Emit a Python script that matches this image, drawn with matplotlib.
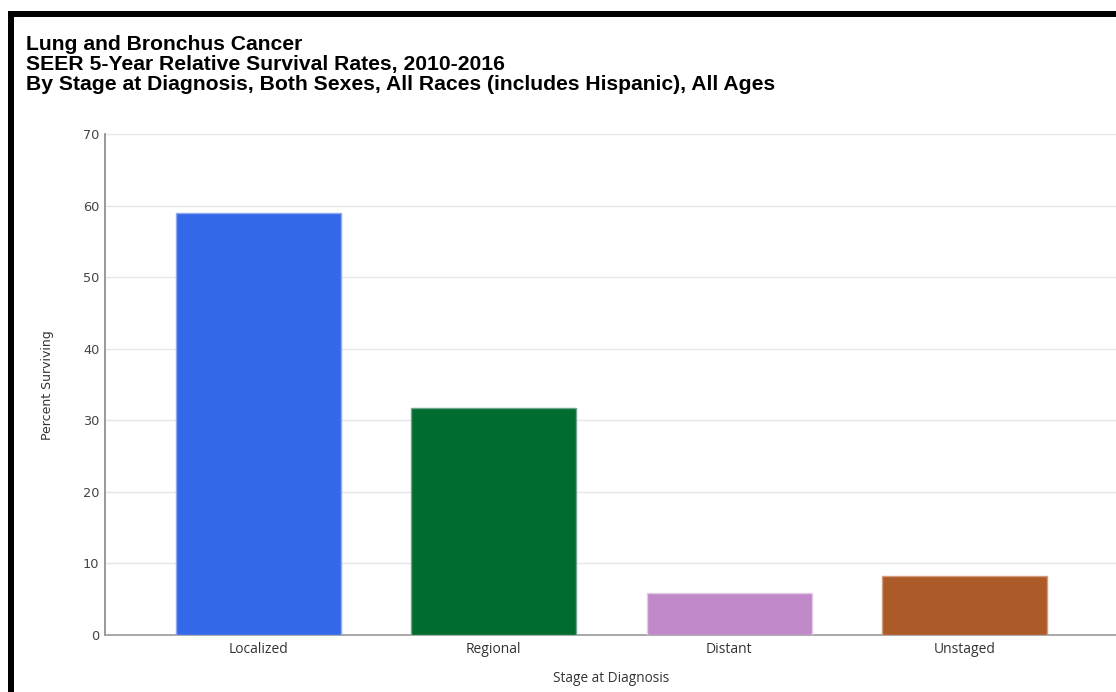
import matplotlib
matplotlib.use("Agg")
import matplotlib.pyplot as plt
from matplotlib.patches import Rectangle

# Data
stages = ["Localized", "Regional", "Distant", "Unstaged"]
survival = [59.0, 31.7, 5.8, 8.3]
bar_colors = ["#3369E8", "#006D2F", "#C088C8", "#AD5A29"]
edge_colors = ["#8FA9F0", "#6FA58A", "#E4CBE8", "#D49C7C"]
yticks = [0, 10, 20, 30, 40, 50, 60, 70]
title_lines = [
    "Lung and Bronchus Cancer",
    "SEER 5-Year Relative Survival Rates, 2010-2016",
    "By Stage at Diagnosis, Both Sexes, All Races (includes Hispanic), All Ages",
]

W, H = 1116, 692
fig = plt.figure(figsize=(W / 100, H / 100), dpi=100)
fig.patch.set_facecolor("white")

# Black frame along top and left
fig.add_artist(Rectangle((8 / W, 1 - 17 / H), 1.2, 6 / H, transform=fig.transFigure,
                         facecolor="black", edgecolor="none"))
fig.add_artist(Rectangle((8 / W, -0.1), 6 / W, 1.1 - 11 / H, transform=fig.transFigure,
                         facecolor="black", edgecolor="none"))

# Title
for i, line in enumerate(title_lines):
    fig.text(26 / W, 1 - (50 + 20 * i) / H, line, family="Liberation Sans",
             fontweight="bold", fontsize=15.2, color="black", ha="left", va="baseline")

left, right = 105, 1118
bottom, top = 635, 134
ax = fig.add_axes([left / W, 1 - bottom / H, (right - left) / W, (bottom - top) / H])
ax.set_facecolor("white")

x = range(len(stages))
ax.bar(x, survival, width=0.70, color=bar_colors, edgecolor=edge_colors,
       linewidth=1, zorder=3)

ax.set_xlim(-0.65, 3.65)
ax.set_ylim(0, 70)
ax.set_yticks(yticks)
ax.set_yticklabels([str(v) for v in yticks], family="DejaVu Sans", fontsize=9.3,
                   color="#444444")
ax.set_xticks(list(x))
ax.set_xticklabels(stages, family="Open Sans", fontsize=10, color="#333333")
ax.tick_params(axis="both", length=0)
ax.tick_params(axis="y", pad=4)
ax.tick_params(axis="x", pad=5)
ax.grid(axis="y", color="#E6E6E6", linewidth=1, zorder=0)
ax.set_axisbelow(True)

for s in ["top", "right"]:
    ax.spines[s].set_visible(False)
ax.spines["left"].set_color("#888888")
ax.spines["bottom"].set_color("#999999")
ax.spines["left"].set_linewidth(1.2)
ax.spines["bottom"].set_linewidth(1.2)

fig.text(611 / W, 1 - 679 / H, "Stage at Diagnosis", family="Open Sans",
         fontsize=9.8, color="#333333", ha="center", va="center")
fig.text(47 / W, 1 - 385 / H, "Percent Surviving", family="DejaVu Sans",
         fontsize=9, color="#333333", ha="center", va="center", rotation=90)

fig.savefig("out.png", dpi=100, facecolor="white")
